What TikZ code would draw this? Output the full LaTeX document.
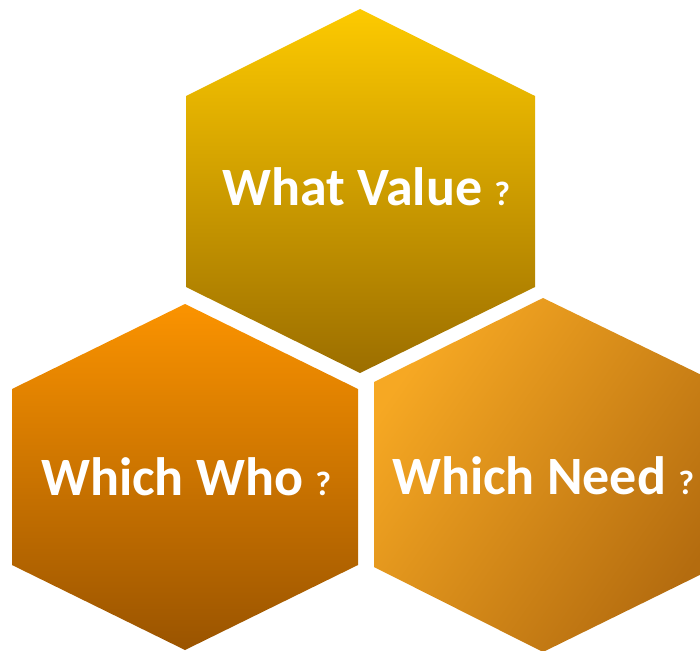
\documentclass[tikz,border=0pt]{standalone}
\usepackage{fontspec}
\setmainfont{Carlito}
\usepackage{tikz}
\definecolor{goldtop}{HTML}{FDCA00}
\definecolor{goldbot}{HTML}{9C6E00}
\definecolor{orangetop}{HTML}{FB9300}
\definecolor{orangebot}{HTML}{9A5400}
\definecolor{amberlight}{HTML}{F6A823}
\definecolor{ambermid}{HTML}{E8941C}
\definecolor{amberdark}{HTML}{B46C0F}
\tikzset{
  label text/.style={text=white, font={\fontsize{54pt}{54pt}\selectfont\bfseries}, inner sep=0pt, anchor=base west}}
\newcommand{\qmark}{{\fontsize{34pt}{34pt}\selectfont ?}}

\begin{document}
\begin{tikzpicture}[x=1pt,y=-1pt]
\clip (0,0) rectangle (700,650);
% top hexagon
\shade [top color=goldtop, bottom color=goldbot] (360,9) -- (535,96) -- (535,287) -- (360,373) -- (186,287) -- (186,96) -- cycle;
% left hexagon
\shade [top color=orangetop, bottom color=orangebot] (185,304) -- (358,389) -- (358,565) -- (185,650) -- (12,565) -- (12,389) -- cycle;
% right hexagon
\shade [left color=amberlight, middle color=ambermid, right color=amberdark, shading angle=55] (543,298) -- (716,382) -- (716,567) -- (543,652) -- (374,567) -- (374,382) -- cycle;
\node [label text] (value) at (222,205) {What Value \qmark};
\node [label text] (who) at (41,495) {Which Who \qmark};
\node [label text] (need) at (392,494) {Which Need \qmark};
\end{tikzpicture}
\end{document}
